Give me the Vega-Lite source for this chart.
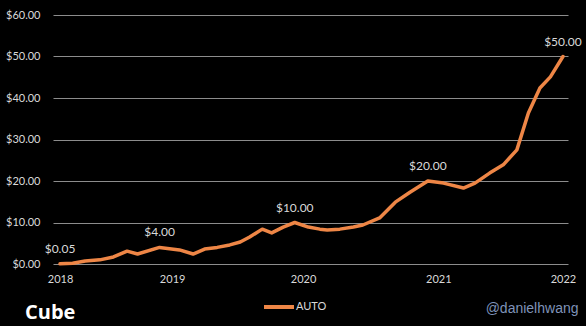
{
  "$schema": "https://vega.github.io/schema/vega-lite/v6.json",
  "width": 515,
  "height": 249,
  "autosize": "none",
  "padding": {"left": 53, "top": 15, "right": 18, "bottom": 62},
  "background": "#000000",
  "config": {"view": {"stroke": null}, "font": "Lato"},
  "data": {
    "values": [
      {"m": 0, "v": 0.05, "series": "AUTO", "label": "$0.05"},
      {"m": 1.2, "v": 0.2, "series": "AUTO"},
      {"m": 2.4, "v": 0.7, "series": "AUTO"},
      {"m": 3.8, "v": 1.0, "series": "AUTO"},
      {"m": 5.1, "v": 1.7, "series": "AUTO"},
      {"m": 6.4, "v": 3.1, "series": "AUTO"},
      {"m": 7.4, "v": 2.4, "series": "AUTO"},
      {"m": 9.5, "v": 4.0, "series": "AUTO", "label": "$4.00"},
      {"m": 11.4, "v": 3.4, "series": "AUTO"},
      {"m": 12.7, "v": 2.4, "series": "AUTO"},
      {"m": 13.8, "v": 3.6, "series": "AUTO"},
      {"m": 15.0, "v": 4.0, "series": "AUTO"},
      {"m": 16.2, "v": 4.6, "series": "AUTO"},
      {"m": 17.2, "v": 5.3, "series": "AUTO"},
      {"m": 18.1, "v": 6.5, "series": "AUTO"},
      {"m": 19.3, "v": 8.4, "series": "AUTO"},
      {"m": 20.2, "v": 7.5, "series": "AUTO"},
      {"m": 21.3, "v": 8.9, "series": "AUTO"},
      {"m": 22.4, "v": 10.0, "series": "AUTO", "label": "$10.00"},
      {"m": 23.7, "v": 8.9, "series": "AUTO"},
      {"m": 24.8, "v": 8.4, "series": "AUTO"},
      {"m": 25.5, "v": 8.2, "series": "AUTO"},
      {"m": 26.7, "v": 8.4, "series": "AUTO"},
      {"m": 28.0, "v": 8.9, "series": "AUTO"},
      {"m": 28.9, "v": 9.4, "series": "AUTO"},
      {"m": 30.5, "v": 11.1, "series": "AUTO"},
      {"m": 32.0, "v": 14.9, "series": "AUTO"},
      {"m": 33.4, "v": 17.3, "series": "AUTO"},
      {"m": 35.1, "v": 20.0, "series": "AUTO", "label": "$20.00"},
      {"m": 36.6, "v": 19.5, "series": "AUTO"},
      {"m": 38.5, "v": 18.3, "series": "AUTO"},
      {"m": 39.6, "v": 19.5, "series": "AUTO"},
      {"m": 41.0, "v": 21.9, "series": "AUTO"},
      {"m": 42.3, "v": 23.9, "series": "AUTO"},
      {"m": 43.6, "v": 27.5, "series": "AUTO"},
      {"m": 44.7, "v": 36.4, "series": "AUTO"},
      {"m": 45.8, "v": 42.4, "series": "AUTO"},
      {"m": 46.8, "v": 45.1, "series": "AUTO"},
      {"m": 48, "v": 50.0, "series": "AUTO", "label": "$50.00"}
    ]
  },
  "encoding": {
    "x": {
      "field": "m",
      "type": "quantitative",
      "scale": {"domain": [-0.67, 48.48], "nice": false, "zero": false},
      "axis": {
        "values": [0, 10.7, 23.2, 36.1, 48],
        "labelExpr": "datum.value < 5 ? '2018' : datum.value < 15 ? '2019' : datum.value < 30 ? '2020' : datum.value < 40 ? '2021' : '2022'",
        "grid": false,
        "domain": false,
        "ticks": false,
        "tickSize": 0,
        "labelFlush": false,
        "labelOverlap": false,
        "labelPadding": 9,
        "labelColor": "#d9d9d9",
        "labelFontSize": 11,
        "title": "@danielhwang",
        "titleAnchor": "end",
        "titleX": 525,
        "titleAlign": "right",
        "titleColor": "#7f93b8",
        "titleFontSize": 14,
        "titleFontWeight": "normal",
        "titleFont": "Liberation Sans",
        "titlePadding": 17
      }
    },
    "y": {
      "field": "v",
      "type": "quantitative",
      "scale": {"domain": [0, 60], "nice": false},
      "axis": {
        "values": [0, 10, 20, 30, 40, 50, 60],
        "format": "$.2f",
        "grid": true,
        "gridColor": "#8c8c8c",
        "gridWidth": 1,
        "domain": false,
        "ticks": false,
        "tickSize": 0,
        "labelPadding": 13,
        "labelColor": "#d9d9d9",
        "labelFontSize": 11,
        "title": null
      }
    }
  },
  "layer": [
    {
      "mark": {"type": "line", "strokeWidth": 3.5, "strokeJoin": "round", "strokeCap": "round"},
      "encoding": {
        "color": {
          "field": "series",
          "type": "nominal",
          "scale": {"range": ["#EE8646"]},
          "legend": {
            "orient": "none",
            "legendX": 209,
            "legendY": 275,
            "direction": "horizontal",
            "symbolType": "stroke",
            "symbolSize": 900,
            "symbolStrokeWidth": 4,
            "labelColor": "#d9d9d9",
            "labelFontSize": 11,
            "labelOffset": 0,
            "title": null
          }
        }
      }
    },
    {
      "transform": [{"filter": "datum.label"}],
      "mark": {"type": "text", "dy": -15, "fontSize": 12, "color": "#d9d9d9"},
      "encoding": {"text": {"field": "label"}}
    }
  ],
  "title": {
    "text": "Cube",
    "orient": "bottom",
    "anchor": "start",
    "frame": "group",
    "color": "#ffffff",
    "fontSize": 20,
    "font": "Open Sans",
    "fontWeight": "bold",
    "dx": -28,
    "dy": -12,
    "offset": 0
  }
}
